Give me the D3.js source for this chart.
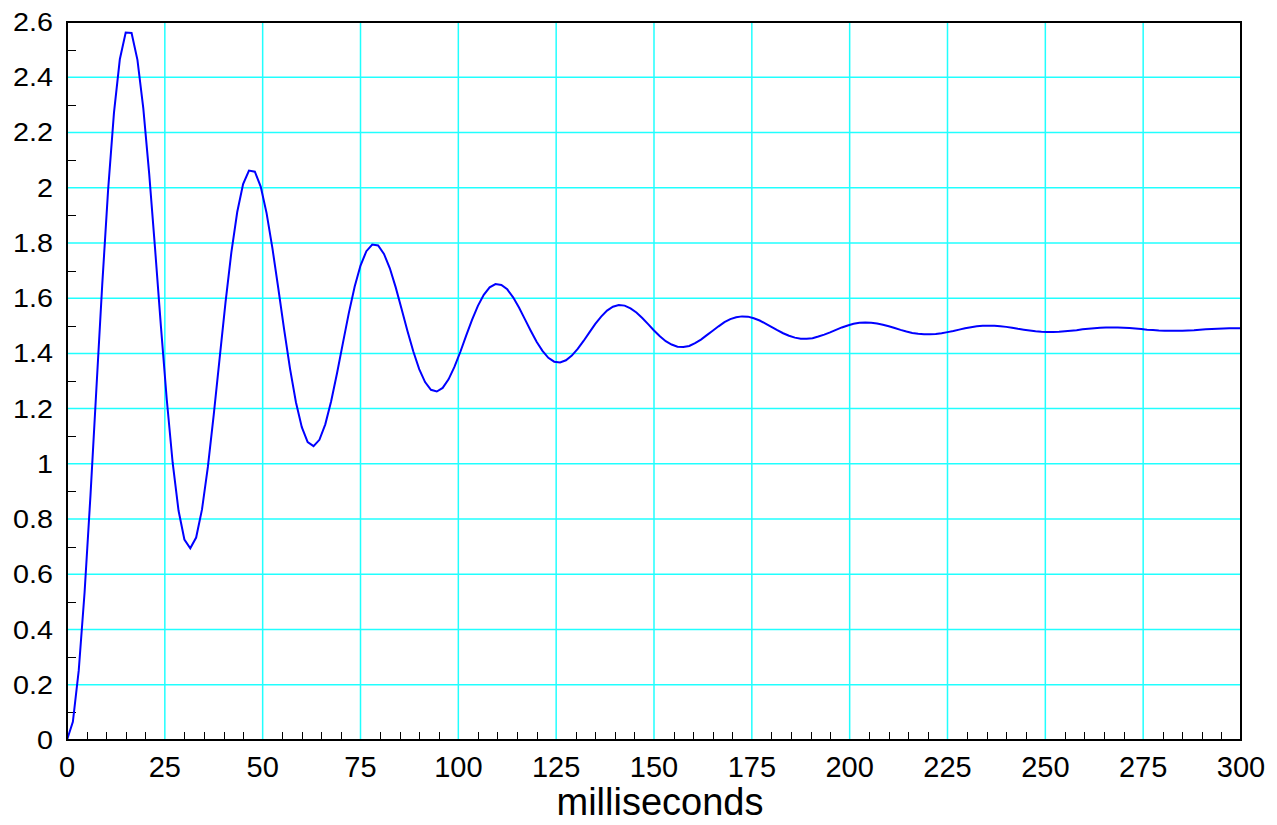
<!DOCTYPE html>
<html>
<head>
<meta charset="utf-8">
<script src="https://cdn.jsdelivr.net/npm/d3@7"></script>
<style>
  html, body { margin: 0; padding: 0; background: #fff; }
  text { font-family: "Liberation Sans", Arial, Helvetica, sans-serif; fill: #000; }
</style>
</head>
<body>
<svg id="root"></svg>
<script>
// sampled step response, one value every 1.5 ms from 0 to 300 ms
const sampleStep = 1.5;
const response = [
  0.000, 0.066, 0.252, 0.536, 0.886, 1.269, 1.648, 1.991, 2.271, 2.465,
  2.562, 2.560, 2.463, 2.287, 2.051, 1.780, 1.498, 1.232, 1.004, 0.831,
  0.726, 0.694, 0.733, 0.835, 0.989, 1.178, 1.382, 1.584, 1.766, 1.912,
  2.013, 2.062, 2.058, 2.004, 1.908, 1.780, 1.635, 1.485, 1.344, 1.223,
  1.133, 1.079, 1.064, 1.087, 1.143, 1.227, 1.328, 1.437, 1.545, 1.641,
  1.718, 1.770, 1.794, 1.791, 1.760, 1.708, 1.639, 1.561, 1.481, 1.407,
  1.343, 1.296, 1.268, 1.262, 1.275, 1.306, 1.351, 1.405, 1.464, 1.521,
  1.572, 1.612, 1.639, 1.651, 1.648, 1.632, 1.603, 1.566, 1.524, 1.482,
  1.442, 1.409, 1.384, 1.370, 1.367, 1.375, 1.392, 1.416, 1.445, 1.476,
  1.507, 1.533, 1.555, 1.569, 1.575, 1.573, 1.563, 1.548, 1.528, 1.506,
  1.483, 1.462, 1.444, 1.432, 1.424, 1.423, 1.427, 1.437, 1.450, 1.466,
  1.482, 1.498, 1.513, 1.524, 1.531, 1.534, 1.533, 1.527, 1.519, 1.508,
  1.496, 1.484, 1.473, 1.464, 1.457, 1.453, 1.453, 1.455, 1.461, 1.468,
  1.476, 1.485, 1.494, 1.501, 1.507, 1.511, 1.512, 1.511, 1.508, 1.504,
  1.498, 1.492, 1.485, 1.479, 1.474, 1.471, 1.469, 1.469, 1.470, 1.473,
  1.477, 1.481, 1.486, 1.491, 1.495, 1.498, 1.500, 1.500, 1.500, 1.498,
  1.496, 1.493, 1.489, 1.486, 1.483, 1.480, 1.478, 1.477, 1.477, 1.478,
  1.480, 1.482, 1.484, 1.487, 1.489, 1.491, 1.493, 1.494, 1.494, 1.494,
  1.493, 1.492, 1.490, 1.488, 1.486, 1.485, 1.483, 1.482, 1.482, 1.482,
  1.482, 1.483, 1.484, 1.486, 1.487, 1.488, 1.489, 1.490, 1.491, 1.491,
  1.491
];

const xTicks = [0, 25, 50, 75, 100, 125, 150, 175, 200, 225, 250, 275, 300];
const xTickLabels = ["0", "25", "50", "75", "100", "125", "150", "175", "200", "225", "250", "275", "300"];
const yTicks = [0, 0.2, 0.4, 0.6, 0.8, 1, 1.2, 1.4, 1.6, 1.8, 2, 2.2, 2.4, 2.6];
const yTickLabels = ["0", "0.2", "0.4", "0.6", "0.8", "1", "1.2", "1.4", "1.6", "1.8", "2", "2.2", "2.4", "2.6"];
const xLabel = "milliseconds";

const width = 1277;
const height = 825;
const margin = { top: 22, right: 36, bottom: 85, left: 67 };
const w = width - margin.left - margin.right;
const h = height - margin.top - margin.bottom;

const svg = d3.select("#root")
  .attr("width", width)
  .attr("height", height);

const g = svg.append("g")
  .attr("transform", `translate(${margin.left},${margin.top})`);

const x = d3.scaleLinear().domain([0, 300]).range([0, w]);
const y = d3.scaleLinear().domain([0, 2.6]).range([h, 0]);

// minor tick positions (between the labelled ones)
const xMinor = d3.range(0, 301, 5).filter(v => v % 25 !== 0);
const yMinor = d3.range(1, 26, 2).map(v => v / 10);

const gridColor = "#20ffff";

// grid
const grid = g.append("g").attr("class", "grid");

grid.selectAll("line.gx")
  .data(xTicks.slice(1, -1))
  .enter().append("line")
  .attr("class", "gx")
  .attr("x1", d => x(d))
  .attr("x2", d => x(d))
  .attr("y1", 0)
  .attr("y2", h)
  .style("stroke", gridColor)
  .style("stroke-width", 1.5);

grid.selectAll("line.gy")
  .data(yTicks.slice(1, -1))
  .enter().append("line")
  .attr("class", "gy")
  .attr("x1", 0)
  .attr("x2", w)
  .attr("y1", d => y(d))
  .attr("y2", d => y(d))
  .style("stroke", gridColor)
  .style("stroke-width", 1.5);

// minor ticks inside the frame
g.selectAll(".xminor")
  .data(xMinor)
  .enter().append("line")
  .attr("class", "xminor")
  .attr("x1", d => Math.round(x(d)) + 0.5)
  .attr("x2", d => Math.round(x(d)) + 0.5)
  .attr("y1", h)
  .attr("y2", h - 8)
  .style("stroke", "#000")
  .style("stroke-width", 1);

g.selectAll(".yminor")
  .data(yMinor)
  .enter().append("line")
  .attr("class", "yminor")
  .attr("x1", 0)
  .attr("x2", 9)
  .attr("y1", d => Math.round(y(d)) + 0.5)
  .attr("y2", d => Math.round(y(d)) + 0.5)
  .style("stroke", "#000")
  .style("stroke-width", 1);

// curve
const line = d3.line()
  .x((d, i) => x(i * sampleStep))
  .y(d => y(d));

g.append("path")
  .datum(response)
  .attr("d", line)
  .style("fill", "none")
  .style("stroke", "#0000ff")
  .style("stroke-width", 2)
  .style("stroke-linejoin", "miter");

// frame
g.append("rect")
  .attr("x", 0)
  .attr("y", 0)
  .attr("width", w)
  .attr("height", h)
  .style("fill", "none")
  .style("stroke", "#000")
  .style("stroke-width", 2);

// tick labels
g.selectAll(".xlab")
  .data(xTicks)
  .enter().append("text")
  .attr("class", "xlab")
  .attr("x", d => x(d))
  .attr("y", h + 37)
  .attr("text-anchor", "middle")
  .style("font-size", "29px")
  .text((d, i) => xTickLabels[i]);

g.selectAll(".ylab")
  .data(yTicks)
  .enter().append("text")
  .attr("class", "ylab")
  .attr("transform", d => `translate(-14,${y(d) + 9}) scale(1.15,1)`)
  .attr("text-anchor", "end")
  .style("font-size", "25px")
  .text((d, i) => yTickLabels[i]);

// axis title
svg.append("text")
  .attr("x", 660)
  .attr("y", 815)
  .attr("text-anchor", "middle")
  .style("font-size", "38px")
  .text(xLabel);
</script>
</body>
</html>
